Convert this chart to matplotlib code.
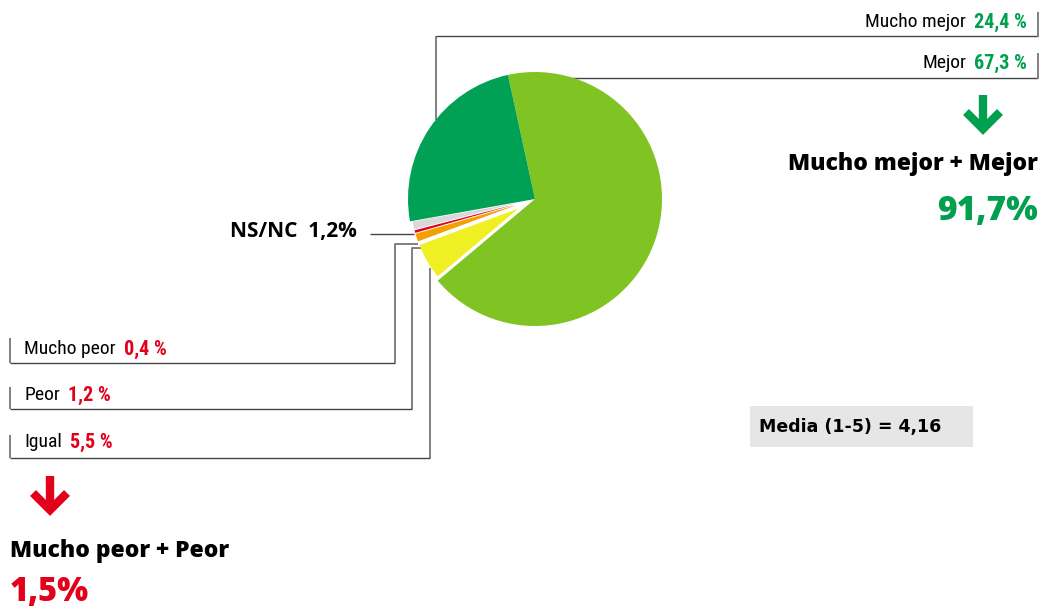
import os
import matplotlib
matplotlib.use("Agg")
import matplotlib.pyplot as plt
from matplotlib import font_manager
from matplotlib.font_manager import FontProperties
from matplotlib.patches import Rectangle

# data
categories = ["Mejor", "Igual", "Peor", "Mucho peor", "NS/NC", "Mucho mejor"]
values = [67.3, 5.5, 1.2, 0.4, 1.2, 24.4]
slice_colors = ["#80c423", "#f0ef23", "#f4a000", "#e2001a", "#d9d9d9", "#00a155"]
small = ["Igual", "Peor", "Mucho peor", "NS/NC"]

better_total = 91.7
worse_total = 1.5
media = 4.16

GREEN = "#00a04f"
RED = "#e2001a"
LINE = "#444444"

files = {os.path.basename(f.fname): f.fname for f in font_manager.fontManager.ttflist}


def font(*candidates):
    for c in candidates:
        for ext in (".ttf", ".otf"):
            if c + ext in files:
                return files[c + ext]
    return None


NARROW = font("RobotoCondensed-Regular", "LiberationSansNarrow-Regular", "DejaVuSansCondensed")
NARROW_B = font("RobotoCondensed-Bold", "LiberationSansNarrow-Bold", "DejaVuSansCondensed-Bold")
BOLD = font("OpenSans-Bold", "DejaVuSans-Bold")
HEAVY = font("OpenSans-ExtraBold", "OpenSans-Bold", "DejaVuSans-Bold")
WIDE_B = font("DejaVuSans-Bold")


def fp(fname, size, weight="bold"):
    if fname:
        return FontProperties(fname=fname, size=size)
    return FontProperties(family="DejaVu Sans", size=size, weight=weight)


def fmt(v, space=True):
    s = f"{v:.1f}".replace(".", ",")
    return s + (" %" if space else "%")


fig = plt.figure(figsize=(10.4, 6.11), dpi=100)

# overlay axes in pixel units (y downward)
ax = fig.add_axes([0, 0, 1, 1])
ax.set_xlim(0, 1040)
ax.set_ylim(611, 0)
ax.axis("off")

# pie axes: centre (535, 199), radius 127 px
cx, cy, half, r = 535, 199, 150, 127
ax_pie = fig.add_axes([(cx - half) / 1040, (611 - cy - half) / 611,
                       2 * half / 1040, 2 * half / 611])

explode = [0.15 if c in small else 0 for c in categories]
wedges, _ = ax_pie.pie(values, colors=slice_colors, startangle=102.3,
                       counterclock=False, explode=explode, radius=1,
                       wedgeprops=dict(linewidth=0))
for w, c in zip(wedges, categories):
    if c in small:
        w.set_radius(0.83)
ax_pie.set_xlim(-half / r, half / r)
ax_pie.set_ylim(-half / r, half / r)
ax_pie.axis("off")
ax_pie.patch.set_alpha(0)


# leader lines
def seg(xs, ys, color=LINE, lw=1.0):
    ax.plot(xs, ys, color=color, lw=lw, solid_capstyle="butt")


GREY = "#808080"
seg([436, 436], [36, 120], GREY, 1.4)
seg([436, 1038], [36, 36])
seg([1038, 1038], [12, 37], GREY, 1.4)
seg([568, 1038], [78, 78])
seg([1038, 1038], [53, 79], GREY, 1.4)

seg([370, 414], [234, 234])

seg([418, 395, 395], [244, 244, 363], GREY, 1.4)
seg([10, 395], [363, 363])
seg([10, 10], [338, 363], GREY, 1.4)
seg([421, 412, 412], [248, 248, 409], GREY, 1.4)
seg([10, 412], [409, 409])
seg([10, 10], [387, 409], GREY, 1.4)
seg([430, 430], [268, 458], GREY, 1.4)
seg([10, 430], [458, 458])
seg([10, 10], [435, 458], GREY, 1.4)

renderer = fig.canvas.get_renderer()


def pair(x, y, label, value, color, align):
    lab = fp(NARROW, 14, "normal")
    num = fp(NARROW_B, 14.5)
    if align == "left":
        t1 = ax.text(x, y, label, ha="left", va="center", fontproperties=lab)
        x1 = t1.get_window_extent(renderer).x1
        ax.text(x1 + 8, y, value, ha="left", va="center", color=color, fontproperties=num)
    else:
        t2 = ax.text(x, y, value, ha="right", va="center", color=color, fontproperties=num)
        x0 = t2.get_window_extent(renderer).x0
        ax.text(x0 - 8, y, label, ha="right", va="center", fontproperties=lab)


val = dict(zip(categories, values))
pair(1027, 22, "Mucho mejor", fmt(val["Mucho mejor"]), GREEN, "right")
pair(1027, 63, "Mejor", fmt(val["Mejor"]), GREEN, "right")
pair(24, 349, "Mucho peor", fmt(val["Mucho peor"]), RED, "left")
pair(24, 395, "Peor", fmt(val["Peor"]), RED, "left")
pair(24, 442, "Igual", fmt(val["Igual"]), RED, "left")

ax.text(357, 232, "NS/NC  " + fmt(val["NS/NC"], False), ha="right", va="center",
        fontproperties=fp(BOLD, 15))


# arrows
def arrow(x, top, color):
    ax.plot([x - 17, x, x + 17], [top + 17, top + 34, top + 17], color=color, lw=6,
            solid_joinstyle="miter", solid_capstyle="butt")
    ax.plot([x, x], [top, top + 32], color=color, lw=6, solid_capstyle="butt")


arrow(983, 95, GREEN)
arrow(50, 476, RED)

ax.text(1038, 164, "Mucho mejor + Mejor", ha="right", va="center",
        fontproperties=fp(HEAVY, 16.5))
ax.text(1038, 211, fmt(better_total, False), ha="right", va="center",
        color=GREEN, fontproperties=fp(HEAVY, 24))
ax.text(10, 551, "Mucho peor + Peor", ha="left", va="center",
        fontproperties=fp(HEAVY, 16.5))
ax.text(10, 592, fmt(worse_total, False), ha="left", va="center",
        color=RED, fontproperties=fp(HEAVY, 23.5))

ax.add_patch(Rectangle((750, 406), 223, 41, facecolor="#e6e6e6", edgecolor="none"))
ax.text(759, 427, "Media (1-5) = " + f"{media:.2f}".replace(".", ","), ha="left",
        va="center", fontproperties=fp(WIDE_B, 12.5))

fig.savefig("out.png", dpi=100)
